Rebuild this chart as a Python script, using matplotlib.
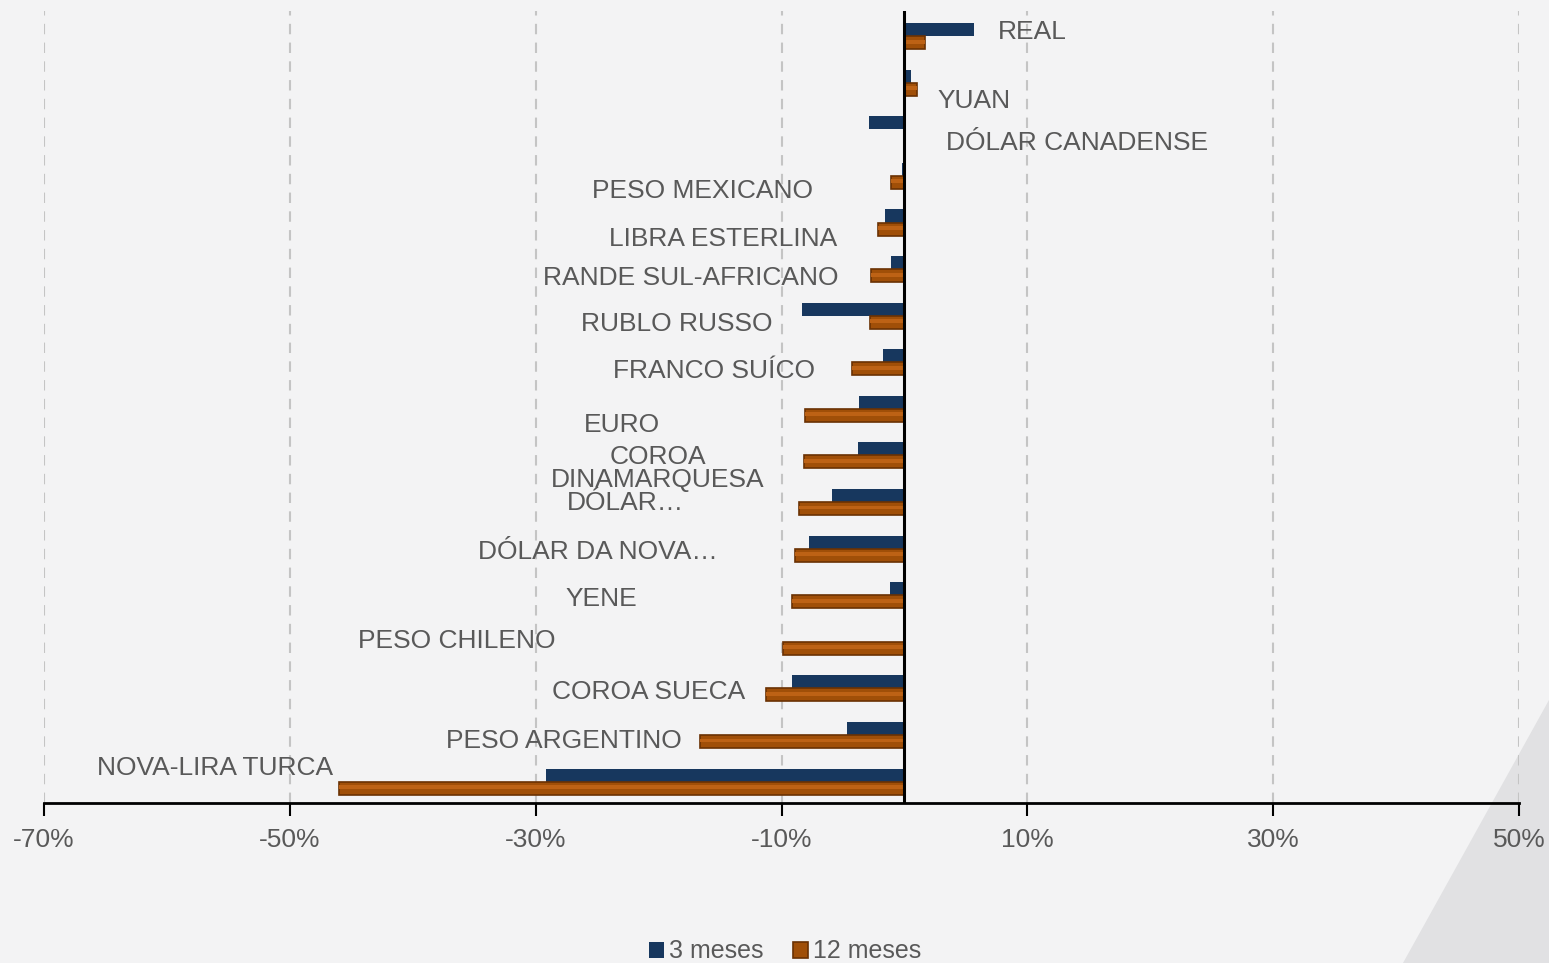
import matplotlib
matplotlib.use("Agg")
import matplotlib.pyplot as plt
import numpy as np
from matplotlib.patches import Polygon

plt.rcParams['font.family'] = ['Liberation Sans', 'DejaVu Sans']

moedas = ['REAL', 'YUAN', 'DÓLAR CANADENSE', 'PESO MEXICANO', 'LIBRA ESTERLINA',
          'RANDE SUL-AFRICANO', 'RUBLO RUSSO', 'FRANCO SUÍCO', 'EURO',
          'COROA\nDINAMARQUESA', 'DÓLAR…', 'DÓLAR DA NOVA…', 'YENE',
          'PESO CHILENO', 'COROA SUECA', 'PESO ARGENTINO', 'NOVA-LIRA TURCA']
tres_meses = [5.7, 0.5, -2.9, -0.2, -1.6, -1.1, -8.3, -1.75, -3.7, -3.8,
              -5.9, -7.8, -1.2, 0.0, -9.15, -4.7, -29.2]
doze_meses = [1.7, 1.0, 0.0, -1.1, -2.15, -2.7, -2.8, -4.25, -8.1, -8.2,
              -8.6, -8.9, -9.15, -9.9, -11.3, -16.6, -46.0]

# where the category labels sit (x in %, y in category units)
label_x = [7.6, 2.65, 3.4, -25.4, -24.0, -29.4, -26.3, -23.7, -26.1, -20.05,
           -27.45, -34.7, -27.6, -44.45, -28.7, -37.3, -65.7]
label_y = [-0.09, 1.39, 2.29, 3.32, 4.35, 5.19, 6.18, 7.19, 8.34, 9.29,
           10.02, 11.07, 12.08, 12.98, 14.07, 15.13, 15.71]

azul = '#17375E'
laranja = '#A04F08'
laranja_escuro = '#6A3103'
cinza_txt = '#595959'

fig = plt.figure(figsize=(15.49, 9.63), dpi=100)
fig.patch.set_facecolor('#F3F3F4')
fig.patches.append(Polygon([[1.0, 1 - 700 / 963], [1403 / 1549, 0], [1, 0]],
                           closed=True, transform=fig.transFigure,
                           facecolor='#E1E1E3', edgecolor='none', zorder=-5))
ax = fig.add_axes([44 / 1549, 1 - 803 / 963, 1475 / 1549, 792 / 963])
ax.set_facecolor('none')

y = np.arange(len(moedas))
h = 0.28
b3 = ax.barh(y - h / 2, tres_meses, height=h, color=azul, zorder=3, label='3 meses')
b12 = ax.barh(y + h / 2, doze_meses, height=h, color=laranja, edgecolor=laranja_escuro,
              linewidth=1.2, zorder=3, label='12 meses')
ax.barh(y + h / 2 - h * 0.08, doze_meses, height=h * 0.3, color='#BD6215', zorder=4)

for nome, lx, ly in zip(moedas, label_x, label_y):
    if '\n' in nome:
        ax.text(lx, ly, nome, ha='center', va='center', fontsize=19,
                color=cinza_txt, linespacing=0.95, zorder=5)
    else:
        ax.text(lx, ly, nome, ha='left', va='center', fontsize=19,
                color=cinza_txt, zorder=5)

ax.set_xlim(-70, 50)
ax.set_ylim(16.46, -0.54)
ax.set_xticks(np.arange(-70, 51, 20))
ax.set_xticklabels([f'{v}%' for v in range(-70, 51, 20)])
ax.tick_params(axis='x', length=9, width=1.5, pad=9, labelsize=19, labelcolor=cinza_txt,
               direction='out')
ax.set_yticks([])
ax.grid(axis='x', color='#C4C4C4', linestyle=(0, (5, 4)), linewidth=1.5, zorder=0)
ax.axvline(0, color='black', linewidth=2.2, zorder=6)
for s in ['left', 'right', 'top']:
    ax.spines[s].set_visible(False)
ax.spines['bottom'].set_linewidth(2)
ax.spines['bottom'].set_zorder(6)

fig.legend(handles=[b3, b12], loc='center', bbox_to_anchor=(0.507, 0.012), ncol=2,
           frameon=False, fontsize=18, handlelength=0.6, handleheight=0.6,
           handletextpad=0.2, columnspacing=1.2, labelcolor=cinza_txt)

fig.savefig('out.png', dpi=100, facecolor=fig.get_facecolor())
